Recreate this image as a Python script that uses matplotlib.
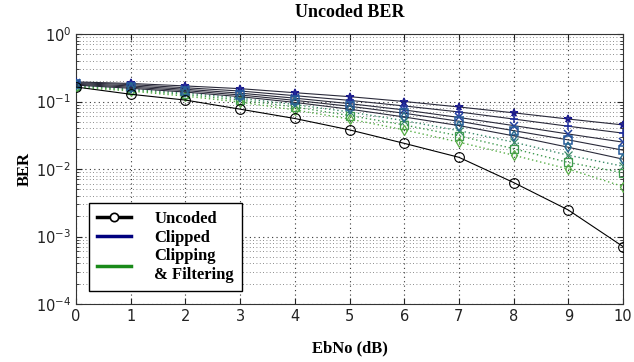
import matplotlib
matplotlib.use("Agg")
import matplotlib.pyplot as plt
from matplotlib.ticker import LogLocator, NullFormatter, FixedLocator
from matplotlib.lines import Line2D

ebno = [0, 1, 2, 3, 4, 5, 6, 7, 8, 9, 10]
uncoded = [0.164, 0.128, 0.105, 0.077, 0.056, 0.038, 0.024, 0.0149, 0.0063, 0.00247, 0.00071]

clipped = {
    "*": [0.195, 0.185, 0.170, 0.155, 0.135, 0.118, 0.100, 0.083, 0.068, 0.055, 0.045],
    "+": [0.190, 0.178, 0.160, 0.143, 0.122, 0.104, 0.086, 0.070, 0.055, 0.043, 0.034],
    "x": [0.185, 0.170, 0.152, 0.133, 0.112, 0.093, 0.075, 0.058, 0.044, 0.033, 0.025],
    "s": [0.180, 0.163, 0.145, 0.125, 0.104, 0.085, 0.067, 0.051, 0.037, 0.027, 0.019],
    "d": [0.175, 0.157, 0.138, 0.118, 0.097, 0.077, 0.059, 0.044, 0.031, 0.021, 0.014],
}
filtered = {
    "x": [0.172, 0.153, 0.133, 0.112, 0.090, 0.070, 0.052, 0.037, 0.025, 0.016, 0.011],
    "s": [0.168, 0.148, 0.127, 0.105, 0.083, 0.062, 0.045, 0.031, 0.020, 0.0125, 0.0088],
    "d": [0.163, 0.143, 0.120, 0.098, 0.075, 0.055, 0.038, 0.025, 0.016, 0.0100, 0.0055],
}
clip_colors = ["#1a1a8c", "#1f2fa0", "#23429f", "#255a9a", "#2a6a8f"]
filt_colors = ["#3a8a6a", "#3f9a4f", "#56ad45"]

legend_labels = ["Uncoded", "Clipped", "Clipping\n& Filtering"]
title = "Uncoded BER"
xlabel = "EbNo (dB)"
ylabel = "BER"

plt.rcParams["mathtext.fontset"] = "dejavusans"
fig = plt.figure(figsize=(6.34, 3.62), dpi=100)
ax = fig.add_axes([76 / 634, 1 - 304 / 362, 547 / 634, 270 / 362])

for (m, vals), c in zip(filtered.items(), filt_colors):
    ax.plot(ebno, vals, linestyle=(0, (1, 2)), color=c, lw=1.0, marker=m, ms=5.5,
            mfc="none", mec=c, mew=0.9, zorder=3)
for (m, vals), c in zip(clipped.items(), clip_colors):
    ax.plot(ebno, vals, linestyle="-", color="#2a2a3a", lw=0.8, marker=m, ms=5.5,
            mfc="none", mec=c, mew=1.1, zorder=4)
ax.plot(ebno, uncoded, "-", color="black", lw=0.8, marker="o", ms=7,
        mfc="none", mec="black", mew=0.8, zorder=5)

ax.set_yscale("log")
ax.set_xlim(0, 10)
ax.set_ylim(1e-4, 1)
ax.xaxis.set_major_locator(FixedLocator(ebno))
ax.yaxis.set_major_locator(LogLocator(base=10, numticks=10))
ax.yaxis.set_minor_locator(LogLocator(base=10, subs=range(2, 10), numticks=20))
ax.yaxis.set_minor_formatter(NullFormatter())
ax.grid(True, which="major", linestyle=(0, (1, 3)), color="#333333", lw=0.8)
ax.grid(True, which="minor", axis="y", linestyle=(0, (1, 3)), color="#666666", lw=0.6)
ax.tick_params(direction="in", which="both", top=True, right=True, labelsize=10.5,
               colors="#222222")
ax.tick_params(which="minor", length=2)
ax.tick_params(which="major", length=4)
for s in ax.spines.values():
    s.set_color("#333333")
    s.set_linewidth(0.8)

serif = {"family": "Liberation Serif", "weight": "bold"}
ax.set_title(title, fontdict=serif, fontsize=13, pad=12)
ax.set_xlabel(xlabel, fontdict=serif, fontsize=12, labelpad=12)
ax.set_ylabel(ylabel, fontdict=serif, fontsize=12, labelpad=2)

handles = [
    Line2D([], [], color="black", lw=2.5, marker="o", ms=6, mfc="white", mec="black", mew=1.2),
    Line2D([], [], color="#00007f", lw=2.5),
    Line2D([], [], color="#1a8a1a", lw=2.5),
]
leg = ax.legend(handles, legend_labels, loc="lower left", bbox_to_anchor=(0.024, 0.048),
                borderaxespad=0, fancybox=False, framealpha=1, edgecolor="black",
                prop={"family": "Liberation Serif", "weight": "bold", "size": 12},
                handlelength=2.0, labelspacing=0.15, borderpad=0.5, handletextpad=1.4)
leg.get_frame().set_linewidth(1.0)
leg.set_zorder(10)

fig.savefig("out.png", dpi=100)
